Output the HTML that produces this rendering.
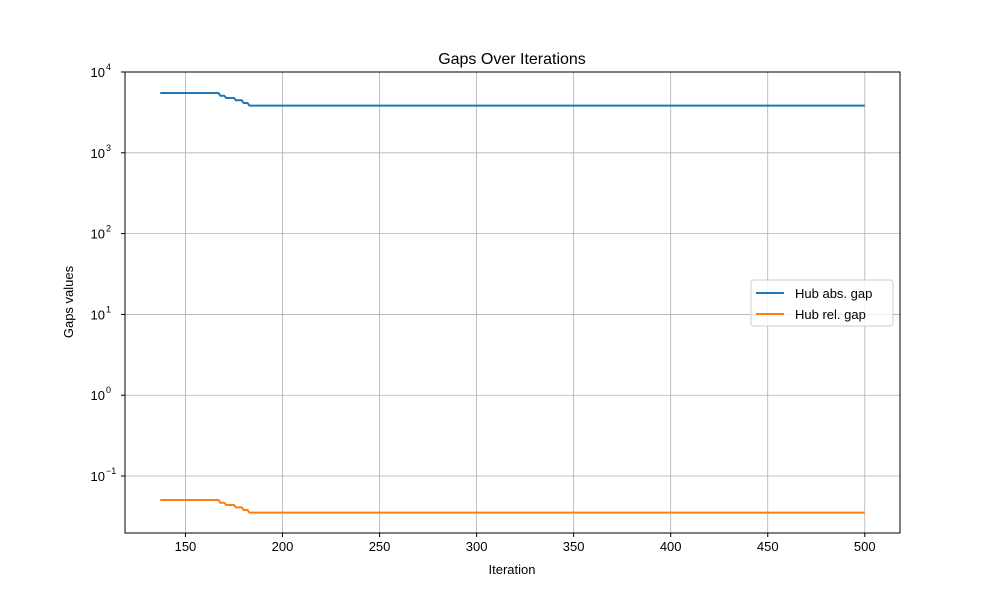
<!DOCTYPE html>
<html><head><meta charset="utf-8"><style>body{margin:0;background:#fff}svg text{font-family:"Liberation Sans","DejaVu Sans",sans-serif}</style></head>
<body>
<svg id="chart" width="1000" height="600" xmlns="http://www.w3.org/2000/svg">
<rect width="1000" height="600" fill="#fff"/>
<g id="grid"></g>
<g id="series"></g>
<rect x="125" y="72" width="775" height="461" fill="none" stroke="#000" stroke-width="1"/>
<g id="ticks"></g>
<text x="512" y="64" font-size="16" text-anchor="middle">Gaps Over Iterations</text>
<text x="512" y="574" font-size="13" text-anchor="middle">Iteration</text>
<text x="73" y="302" font-size="13" text-anchor="middle" transform="rotate(-90 73 302)">Gaps values</text>
<g>
<rect x="751" y="280" width="142" height="46" rx="3" fill="#fff" fill-opacity="0.8" stroke="#ccc"/>
<g><line x1="756" y1="293" x2="784" y2="293" stroke="#1f77b4" stroke-width="2"/><text x="795" y="298" font-size="13">Hub abs. gap</text></g>
<g><line x1="756" y1="314" x2="784" y2="314" stroke="#ff7f0e" stroke-width="2"/><text x="795" y="319" font-size="13">Hub rel. gap</text></g>
</g>
</svg>
<script>
const iterations=[137,167,168,170,171,175,176,179,180,182,183,500];
const absGap=[5500,5500,5090,5090,4770,4770,4470,4470,4140,4140,3830,3830];
const relGap=[0.0505,0.0505,0.0467,0.0467,0.0438,0.0438,0.0410,0.0410,0.0380,0.0380,0.0352,0.0352];
const xTicks=[150,200,250,300,350,400,450,500];
const yExps=[-1,0,1,2,3,4];
const NS="http://www.w3.org/2000/svg";
const X0=125,X1=900,Y0=72,Y1=533,xmin=118.85,xmax=518.15,lmin=-1.705,lmax=4;
const xs=v=>X0+(v-xmin)/(xmax-xmin)*(X1-X0);
const ys=v=>Y1-(Math.log10(v)-lmin)/(lmax-lmin)*(Y1-Y0);
function mk(t,a,p){const e=document.createElementNS(NS,t);for(const k in a)e.setAttribute(k,a[k]);p.appendChild(e);return e;}
const grid=document.getElementById('grid'),ticks=document.getElementById('ticks'),ser=document.getElementById('series');
xTicks.forEach(v=>{const x=xs(v);
const g=mk('line',{x1:x,x2:x,y1:Y0,y2:Y1,stroke:'#b0b0b0','stroke-width':0.8},grid);


mk('line',{x1:x,x2:x,y1:Y1,y2:Y1+4,stroke:'#000'},ticks);
const t=mk('text',{x:x,y:Y1+18,'font-size':13,'text-anchor':'middle'},ticks);t.textContent=v;

});
yExps.forEach(e=>{const y=ys(Math.pow(10,e));
const g=mk('line',{x1:X0,x2:X1,y1:y,y2:y,stroke:'#b0b0b0','stroke-width':0.8},grid);


mk('line',{x1:X0-4,x2:X0,y1:y,y2:y,stroke:'#000'},ticks);
const t=mk('text',{x:X0-20,y:y+5,'font-size':13,'text-anchor':'end'},ticks);t.textContent='10';


const s=mk('text',{x:X0-19,y:y-2,'font-size':9,'text-anchor':'start'},ticks);s.textContent=e<0?'\u2212'+(-e):String(e);

});
function line(vals,color,name){const p=mk('polyline',{points:iterations.map((it,i)=>xs(it)+','+ys(vals[i])).join(' '),fill:'none',stroke:color,'stroke-width':2},ser);

}
line(absGap,'#1f77b4','hub-abs-gap-line');
line(relGap,'#ff7f0e','hub-rel-gap-line');
</script>
</body></html>
